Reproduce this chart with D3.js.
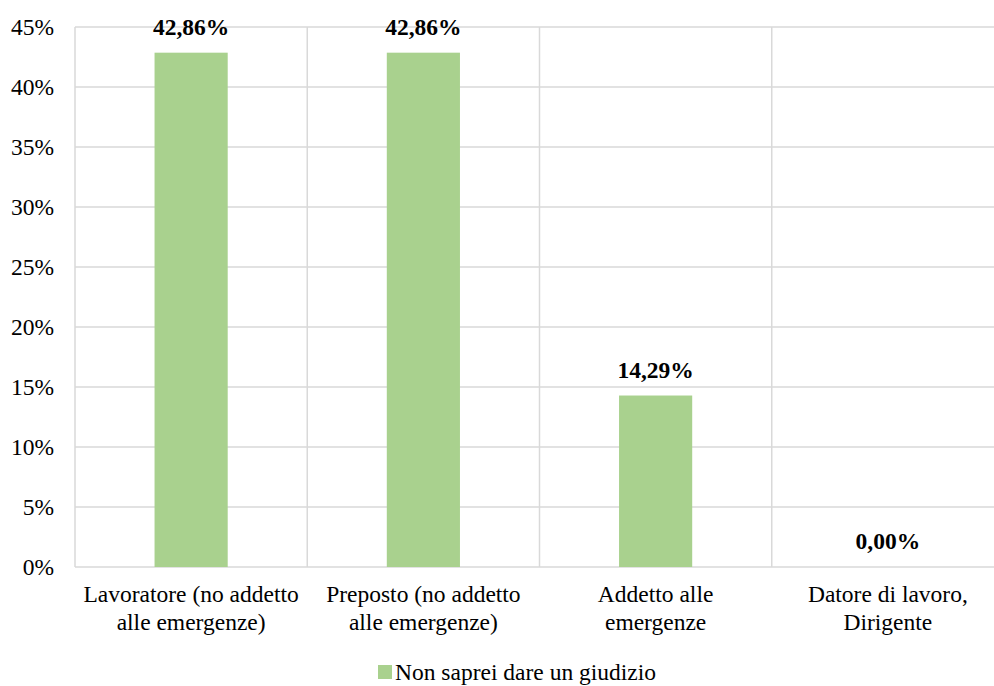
<!DOCTYPE html>
<html><head><meta charset="utf-8">
<script src="https://cdn.jsdelivr.net/npm/d3@7"></script>
<style>body{margin:0;background:#fff;overflow:hidden}svg{display:block}text{font-family:'Liberation Serif','Times New Roman',serif}</style>
</head><body>
<svg id="c" width="994" height="686"></svg>
<script>
const categories = [["Lavoratore (no addetto","alle emergenze)"],["Preposto (no addetto","alle emergenze)"],["Addetto alle","emergenze"],["Datore di lavoro,","Dirigente"]];
const values = [42.86, 42.86, 14.29, 0.00];
const valueLabels = ["42,86%","42,86%","14,29%","0,00%"];
const yTicks = [0,5,10,15,20,25,30,35,40,45];
const seriesName = "Non saprei dare un giudizio";

const svg = d3.select("#c");
const m = {l:75, t:27, r:1004, b:567};
const fs = 23.5;
const x = d3.scaleBand().domain(d3.range(categories.length)).range([m.l, m.r]).paddingInner(0).paddingOuter(0);
const y = d3.scaleLinear().domain([0,45]).range([m.b, m.t]);
const barW = x.bandwidth()*0.315;
const grid = "#d9d9d9";

// horizontal gridlines
svg.append("g").selectAll("line").data(yTicks).join("line")
  .attr("x1", m.l).attr("x2", m.r).attr("y1", d=>y(d)).attr("y2", d=>y(d))
  .attr("stroke", grid).attr("stroke-width", 1.5);
// vertical gridlines
svg.append("g").selectAll("line").data(d3.range(categories.length+1)).join("line")
  .attr("x1", d=>m.l + d*x.bandwidth()).attr("x2", d=>m.l + d*x.bandwidth())
  .attr("y1", m.t).attr("y2", m.b)
  .attr("stroke", grid).attr("stroke-width", 1.5);

// y labels
const yAxis = d3.axisLeft(y).tickValues(yTicks).tickFormat(d=>d+"%").tickSize(0).tickPadding(0);
const ya = svg.append("g").attr("transform", `translate(54,0)`).call(yAxis);
ya.select(".domain").remove();
ya.selectAll("text").attr("font-family", null).attr("font-size", fs).attr("fill", "#000");

// bars
svg.append("g").selectAll("rect").data(values).join("rect")
  .attr("x", (d,i)=>x(i)+(x.bandwidth()-barW)/2)
  .attr("width", barW)
  .attr("y", d=>y(d)).attr("height", d=>y(0)-y(d))
  .attr("fill", "#a9d18e");

// value labels
svg.append("g").selectAll("text").data(values).join("text")
  .attr("x", (d,i)=>x(i)+x.bandwidth()/2)
  .attr("y", d=>y(d)-18)
  .attr("text-anchor","middle")
  .attr("font-size", fs).attr("font-weight","bold")
  .text((d,i)=>valueLabels[i]);

// category labels
const cg = svg.append("g").selectAll("text").data(categories).join("text")
  .attr("text-anchor","middle")
  .attr("font-size", fs)
  .attr("x", (d,i)=>x(i)+x.bandwidth()/2);
cg.selectAll("tspan").data(d=>d).join("tspan")
  .attr("x", function(){return d3.select(this.parentNode).attr("x");})
  .attr("y", (d,j)=>y(0)+35+j*28)
  .text(d=>d);

// legend
const lg = svg.append("g");
lg.append("rect").attr("x",378).attr("y",665).attr("width",14).attr("height",14).attr("fill","#a9d18e");
lg.append("text").attr("x",395).attr("y",680).attr("font-size",fs).text(seriesName);
</script>
</body></html>
